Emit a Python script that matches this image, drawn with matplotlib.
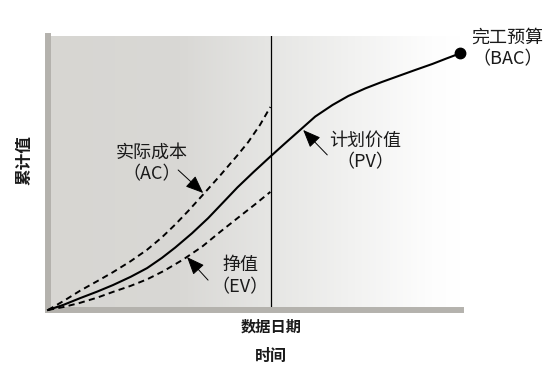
import numpy as np
import matplotlib
matplotlib.use("Agg")
import matplotlib.pyplot as plt
from matplotlib.colors import LinearSegmentedColormap
from matplotlib.transforms import blended_transform_factory

plt.rcParams['font.family'] = ['Noto Sans CJK SC', 'DejaVu Sans']

# planned value (PV)
pv_t = [0, 0.7, 1.43, 2.2, 2.91, 3.7, 4.44, 5.1, 5.7, 6.45, 7.17, 7.85,
        8.48, 9.2, 9.96, 10.6, 11.21, 11.97, 12.74, 13.45, 14.22, 14.95,
        15.7, 16.45, 17.22, 17.85, 18.47]
pv_v = [0, 0.19, 0.43, 0.67, 0.91, 1.21, 1.53, 1.9, 2.28, 2.8, 3.35, 3.93,
        4.47, 5.03, 5.60, 6.07, 6.51, 7.06, 7.48, 7.81, 8.09, 8.32,
        8.54, 8.76, 8.98, 9.18, 9.37]

# actual cost (AC)
ac_t = [0, 0.7, 1.43, 2.2, 2.91, 3.7, 4.44, 5.1, 5.7, 6.3, 6.9, 7.7,
        8.48, 8.97, 9.5, 9.96]
ac_v = [0, 0.33, 0.7, 1.05, 1.38, 1.78, 2.2, 2.65, 3.12, 3.63, 4.17, 4.9,
        5.64, 6.13, 6.76, 7.41]

# earned value (EV)
ev_t = [0, 0.7, 1.43, 2.2, 2.91, 3.7, 4.44, 5.2, 6.05, 6.9, 7.71, 8.5,
        9.25, 9.96]
ev_v = [0, 0.11, 0.26, 0.45, 0.66, 0.88, 1.12, 1.43, 1.84, 2.31, 2.85, 3.36,
        3.84, 4.31]

data_date = 10.0
t_end = 18.5
v_top = 10.0

fig = plt.figure(figsize=(5.56, 3.71), dpi=100)
ax = fig.add_axes([48 / 556, 1 - 310 / 371, 413 / 556, 274 / 371])

# background: grey on the left fading to white on the right
bg = LinearSegmentedColormap.from_list(
    'bg', [(0, '#d7d6d2'), (0.32, '#d9d8d5'), (0.54, '#e6e6e4'),
           (0.93, '#fdfdfd'), (1.0, '#ffffff')])
grad = np.linspace(0, 1, 400).reshape(1, -1)
ax.imshow(grad, extent=[0, t_end, 0, v_top], aspect='auto', cmap=bg,
          zorder=0, interpolation='bilinear')

ax.axvline(data_date, color='black', lw=0.9, zorder=2)

ax.plot(ac_t, ac_v, color='black', lw=1.4, dashes=(3.2, 2.2), zorder=3,
        clip_on=False)
ax.plot(ev_t, ev_v, color='black', lw=1.4, dashes=(3.2, 2.2), zorder=3,
        clip_on=False)
ax.plot(pv_t, pv_v, color='black', lw=1.5, zorder=3, clip_on=False)
ax.plot(pv_t[-1], pv_v[-1], 'o', color='black', ms=7.5, zorder=4, clip_on=False)

ax.set_xlim(0, t_end)
ax.set_ylim(0, v_top)
ax.set_xticks([])
ax.set_yticks([])
for s in ['top', 'right']:
    ax.spines[s].set_visible(False)
for s in ['left', 'bottom']:
    ax.spines[s].set_color('#b4b2ad')
    ax.spines[s].set_linewidth(4.3)

arrow = dict(arrowstyle='-|>, head_length=1.1, head_width=0.45',
             color='black', lw=0.7, shrinkA=0, shrinkB=0)
lab = dict(fontsize=13, color='#1a1a1a', ha='center', va='center',
           linespacing=1.3)

ax.text(4.66, 5.35, '实际成本\n（AC）', **lab)
ax.annotate('', xy=(6.95, 4.27), xytext=(5.83, 5.11), arrowprops=arrow)

ax.text(14.22, 5.78, '计划价值\n（PV）', **lab)
ax.annotate('', xy=(11.43, 6.57), xytext=(12.51, 5.66), arrowprops=arrow)

ax.text(8.61, 1.24, '挣值\n（EV）', **lab)
ax.annotate('', xy=(6.23, 1.93), xytext=(7.17, 1.09), arrowprops=arrow)

ax.text(20.58, 9.54, '完工预算\n（BAC）', clip_on=False, **lab)

tr = blended_transform_factory(ax.transData, fig.transFigure)
ax.text(data_date, 1 - 327 / 371, '数据日期', transform=tr, fontsize=11,
        fontweight='bold', color='#1a1a1a', ha='center', va='center')
ax.text(data_date, 1 - 356 / 371, '时间', transform=tr, fontsize=11.5,
        fontweight='bold', color='#1a1a1a', ha='center', va='center')
fig.text(25 / 556, 1 - 160 / 371, '累计值', rotation=90, fontsize=12,
         fontweight='bold', color='#1a1a1a', ha='center', va='center')

fig.savefig('out.png', dpi=100)
